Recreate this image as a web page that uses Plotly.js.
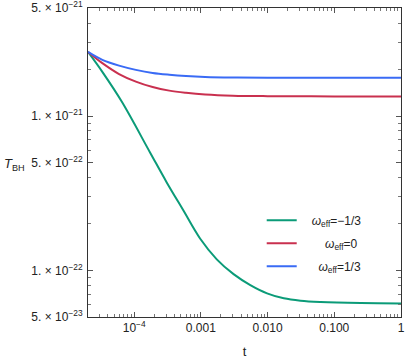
<!DOCTYPE html>
<html>
<head>
<meta charset="utf-8">
<script src="https://cdn.plot.ly/plotly-3.0.1.min.js"></script>
<style>html,body{margin:0;padding:0;background:#fff;}#chart{width:405px;height:359px;}</style>
</head>
<body>
<div id="chart"></div>
<script>
// Data
const tGreen = [2.03e-5, 3.33e-5, 6.5e-5, 1.72e-4, 3.06e-4, 5.45e-4, 9.72e-4, 1.73e-3, 3.09e-3, 5.51e-3, 9.82e-3, 1.75e-2, 3.12e-2, 6.24e-2, 0.25, 1];
const TGreen = [2.60e-21, 1.93e-21, 1.24e-21, 5.83e-22, 3.73e-22, 2.45e-22, 1.61e-22, 1.18e-22, 9.46e-23, 8.04e-23, 7.11e-23, 6.60e-23, 6.37e-23, 6.25e-23, 6.15e-23, 6.11e-23];

const tRed = [2.03e-5, 3.33e-5, 5.93e-5, 1.06e-4, 1.89e-4, 3.36e-4, 5.98e-4, 1.16e-3, 3e-3, 1e-2, 0.1, 1];
const TRed = [2.60e-21, 2.20e-21, 1.87e-21, 1.67e-21, 1.54e-21, 1.46e-21, 1.415e-21, 1.38e-21, 1.355e-21, 1.345e-21, 1.34e-21, 1.34e-21];

const tBlue = [2.03e-5, 3.33e-5, 5.93e-5, 1.06e-4, 1.89e-4, 3.36e-4, 5.98e-4, 1.16e-3, 3e-3, 1e-2, 0.1, 1];
const TBlue = [2.60e-21, 2.31e-21, 2.12e-21, 1.99e-21, 1.90e-21, 1.85e-21, 1.815e-21, 1.79e-21, 1.775e-21, 1.77e-21, 1.77e-21, 1.77e-21];

const NB = '\u00A0';
const seriesNames = [NB.repeat(3) + "<i>ω</i><sub>eff</sub>=−1/3", NB.repeat(7) + "<i>ω</i><sub>eff</sub>=0", NB.repeat(5) + "<i>ω</i><sub>eff</sub>=1/3"];
const seriesColors = ["#0b9b78", "#c9304f", "#3a6bf5"];

const xTickVals = [1e-4, 1e-3, 1e-2, 1e-1, 1];
const xTickText = ["10<sup>−4</sup>", "0.001", "0.010", "0.100", "1"];
const yTickVals = [5e-21, 1e-21, 5e-22, 1e-22, 5e-23];
const yTickText = ["5. × 10<sup>−21</sup>", "1. × 10<sup>−21</sup>", "5. × 10<sup>−22</sup>", "1. × 10<sup>−22</sup>", "5. × 10<sup>−23</sup>"];

const xMinor = [];
for (let e = -5; e <= -1; e++) for (let m = 2; m <= 9; m++) xMinor.push(m * Math.pow(10, e));
const yMinor = [];
for (let e = -23; e <= -21; e++) for (let m = 2; m <= 9; m++) if (m !== 5) yMinor.push(m * Math.pow(10, e));

const xs = [tGreen, tRed, tBlue], ys = [TGreen, TRed, TBlue];
const traces = xs.map((x, i) => ({
  x: x, y: ys[i], type: 'scatter', mode: 'lines', name: seriesNames[i], legendgroup: 'g' + i,
  line: {color: seriesColors[i], width: 2, shape: 'spline', smoothing: 1}
}));

const FONT = 'Liberation Sans, Arial, sans-serif';
const axisCommon = {
  type: 'log', showgrid: false, zeroline: false, showline: true, linecolor: '#333', linewidth: 1,
  mirror: 'allticks', ticks: 'inside', ticklen: 5, tickcolor: '#555', tickwidth: 1,
  tickfont: {family: FONT, size: 12, color: '#222'},
  tickmode: 'array', ticklabeloverflow: 'allow'
};

const layout = {
  width: 405, height: 359,
  margin: {l: 88, r: 4, t: 8, b: 42},
  paper_bgcolor: '#fff', plot_bgcolor: '#fff',
  showlegend: true,
  legend: {x: 0.555, y: 0.36, xanchor: 'left', yanchor: 'top', bgcolor: 'rgba(0,0,0,0)',
           tracegroupgap: 4,
           font: {family: FONT, size: 12, color: '#222'}},
  xaxis: Object.assign({}, axisCommon, {
    range: [Math.log10(2.03e-5), 0.0005], tickvals: xTickVals, ticktext: xTickText,
    minor: {tickmode: 'array', tickvals: xMinor, ticks: 'inside', ticklen: 3, tickcolor: '#777'},
    title: {text: 't', font: {family: FONT, size: 13, color: '#222'}, standoff: 12}
  }),
  yaxis: Object.assign({}, axisCommon, {
    range: [Math.log10(5e-23) - 0.0005, Math.log10(5e-21) + 0.0005], tickvals: yTickVals, ticktext: yTickText,
    minor: {tickmode: 'array', tickvals: yMinor, ticks: 'inside', ticklen: 3, tickcolor: '#777'},
    ticklabelstandoff: 2
  }),
  annotations: [{
    text: '<i>T</i><sub>BH</sub>', xref: 'paper', yref: 'paper', x: -0.275, y: 0.495,
    xanchor: 'left', yanchor: 'middle', showarrow: false,
    font: {family: FONT, size: 13, color: '#222'}
  }]
};

Plotly.newPlot('chart', traces, layout, {displayModeBar: false, staticPlot: true});
</script>
</body>
</html>
